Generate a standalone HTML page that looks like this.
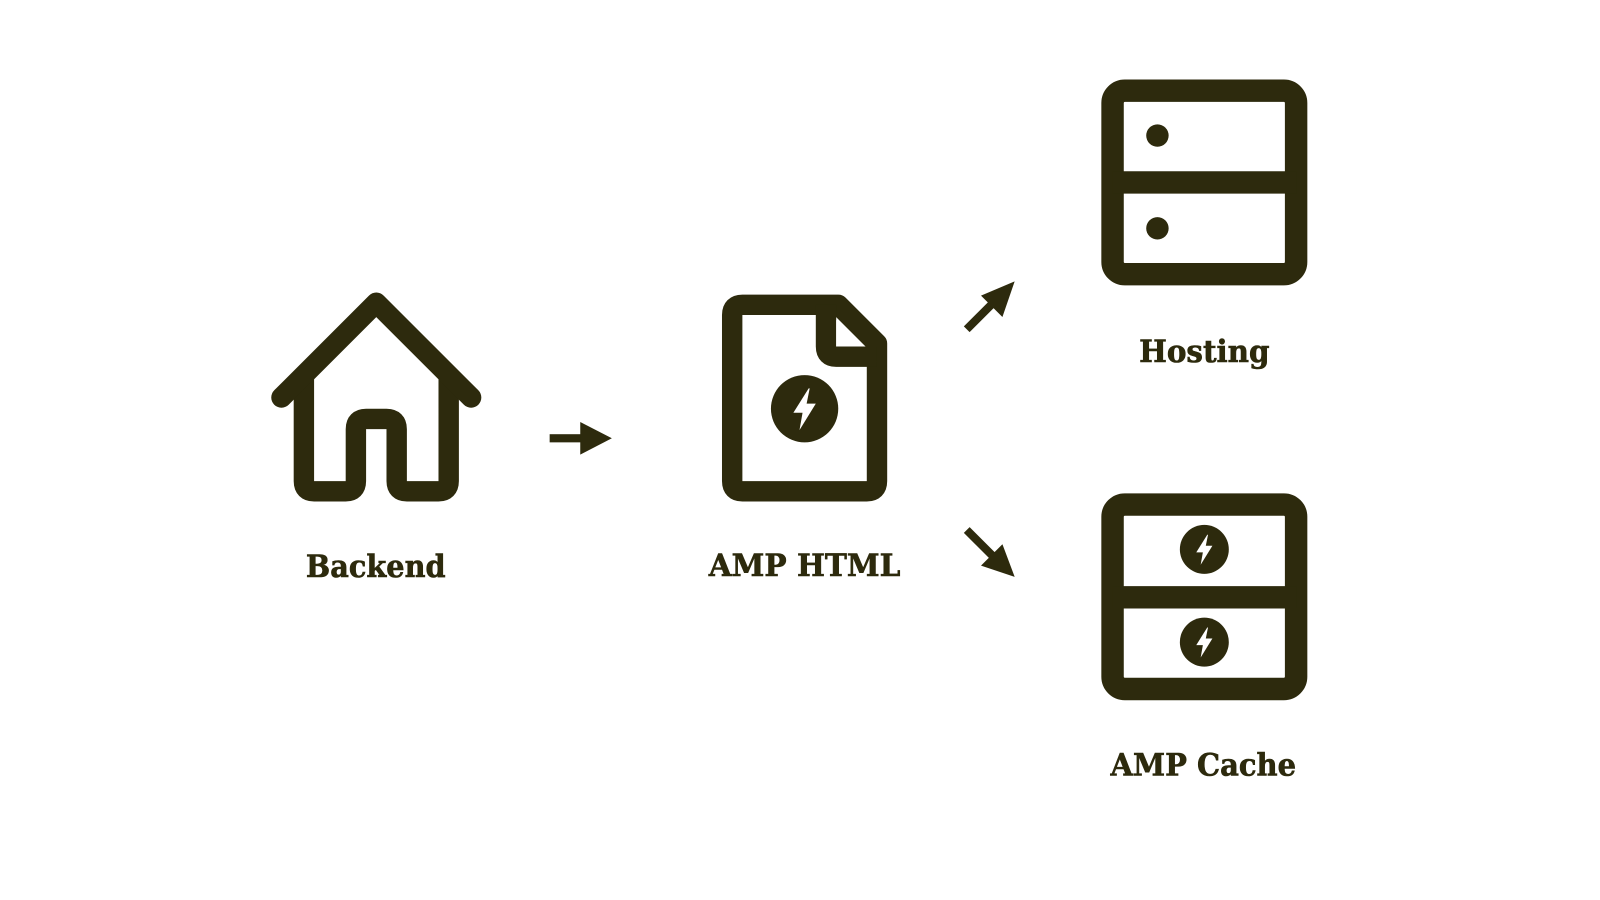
<!DOCTYPE html>
<html><head><meta charset="utf-8"><style>
html,body{margin:0;padding:0;background:#fff;}
svg{display:block;}
text{font-family:"DejaVu Serif","Liberation Serif",serif;font-weight:bold;fill:#2d2a0d;}
</style></head><body>
<svg width="1600" height="900" viewBox="0 0 1569 883" preserveAspectRatio="none" xmlns="http://www.w3.org/2000/svg">
<defs>
<polygon id="bolt" points="4,-20 -11,4 -2,4 -5,21 11,-5 2,-5 5,-20" fill="#fff"/>
</defs>
<g fill="none" stroke="#2d2a0d" stroke-width="20" stroke-linejoin="round" stroke-linecap="round">
<path d="M298,372 L298,472 Q298,482 308,482 L339,482 Q349,482 349,472 L349,421 Q349,411 359,411 L379,411 Q389,411 389,421 L389,472 Q389,482 399,482 L430,482 Q440,482 440,472 L440,372"/>
<path d="M276,390 L369,297 L462,390"/>
<path d="M718,309 Q718,299 728,299 L822,299 L860,337 L860,472 Q860,482 850,482 L728,482 Q718,482 718,472 Z"/>
<path d="M810,299 L810,340 Q810,350 820,350 L860,350" stroke-linecap="butt"/>
</g>
<polygon points="820,314 820,340 846,340" fill="#fff"/>
<circle cx="789" cy="401" r="33" fill="#2d2a0d"/>
<use href="#bolt" transform="translate(789,401)"/>
<g fill="#2d2a0d" stroke="none">
<rect x="539" y="426" width="32" height="8"/>
<polygon points="569,414 600,430 569,446"/>
</g>
<line x1="948" y1="323" x2="975" y2="296" stroke="#2d2a0d" stroke-width="8"/>
<polygon points="995,276 962,290 983,311" fill="#2d2a0d"/>
<line x1="948" y1="520" x2="975" y2="547" stroke="#2d2a0d" stroke-width="8"/>
<polygon points="995,566 962,555 983,534" fill="#2d2a0d"/>
<g fill="none" stroke="#2d2a0d" stroke-width="22">
<rect x="1091" y="89" width="180" height="180" rx="12"/>
<line x1="1091" y1="179" x2="1271" y2="179"/>
<rect x="1091" y="495" width="180" height="181" rx="12"/>
<line x1="1091" y1="586" x2="1271" y2="586"/>
</g>
<circle cx="1135" cy="133" r="11" fill="#2d2a0d"/>
<circle cx="1135" cy="224" r="11" fill="#2d2a0d"/>
<circle cx="1181" cy="539" r="24" fill="#2d2a0d"/>
<use href="#bolt" transform="translate(1181,539) scale(0.72)"/>
<circle cx="1181" cy="630" r="24" fill="#2d2a0d"/>
<use href="#bolt" transform="translate(1181,630) scale(0.72)"/>
<g stroke="#2d2a0d" stroke-width="0.6">
<text x="300" y="566" font-size="30" textLength="137" lengthAdjust="spacingAndGlyphs">Backend</text>
<text x="695" y="565" font-size="30" textLength="188" lengthAdjust="spacingAndGlyphs">AMP HTML</text>
<text x="1117" y="355" font-size="30" textLength="128" lengthAdjust="spacingAndGlyphs">Hosting</text>
<text x="1089" y="761" font-size="30" textLength="182" lengthAdjust="spacingAndGlyphs">AMP Cache</text>
</g>
</svg>
</body></html>
